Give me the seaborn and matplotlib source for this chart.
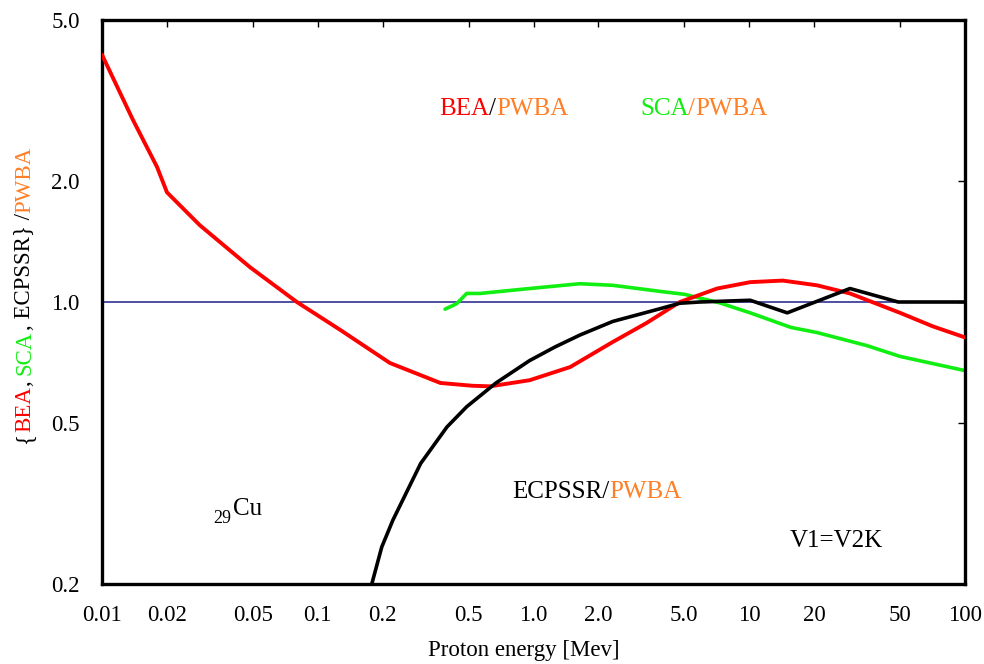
import matplotlib
matplotlib.use("Agg")
import matplotlib.pyplot as plt
import seaborn as sns
import pandas as pd
from matplotlib.ticker import FixedLocator, FixedFormatter, NullLocator

# ---------------- data ----------------
bea_x = [0.01, 0.0139, 0.018, 0.02, 0.0284, 0.0485, 0.08, 0.127, 0.216, 0.37, 0.52, 0.63,
         0.96, 1.48, 2.33, 3.34, 4.77, 7.1, 10.1, 14.3, 20.6, 29.3, 50, 71, 100]
bea_y = [4.1, 2.83, 2.16, 1.87, 1.55, 1.22, 1.0, 0.853, 0.706, 0.63, 0.62, 0.618,
         0.64, 0.69, 0.796, 0.887, 1.0, 1.08, 1.12, 1.13, 1.10, 1.05, 0.94, 0.87, 0.817]

sca_x = [0.389, 0.44, 0.49, 0.565, 0.96, 1.64, 2.33, 4.0, 5.0, 7.3, 10.1, 15.6, 20.6, 35, 50, 100]
sca_y = [0.96, 0.99, 1.05, 1.05, 1.08, 1.11, 1.10, 1.06, 1.045, 0.995, 0.94, 0.865, 0.84, 0.78, 0.733, 0.676]

ecp_x = [0.178, 0.198, 0.223, 0.3, 0.397, 0.49, 0.67, 0.96, 1.26, 1.64, 2.33, 3.66, 4.77, 5.9,
         10.1, 15, 29.3, 49, 100]
ecp_y = [0.2, 0.247, 0.288, 0.398, 0.49, 0.55, 0.63, 0.716, 0.774, 0.828, 0.895, 0.955, 0.993, 1.0,
         1.01, 0.94, 1.08, 1.0, 1.0]

ref_level = 1.0

x_ticks = [0.01, 0.02, 0.05, 0.1, 0.2, 0.5, 1.0, 2.0, 5.0, 10, 20, 50, 100]
x_tick_labels = ["0.01", "0.02", "0.05", "0.1", "0.2", "0.5", "1.0", "2.0", "5.0", "10", "20", "50", "100"]
y_ticks = [0.2, 0.5, 1.0, 2.0, 5.0]
y_tick_labels = ["0.2", "0.5", "1.0", "2.0", "5.0"]

RED = "#ff0000"
GREEN = "#11ee11"
ORANGE = "#ff7f27"
BLUE = "#1f1f8c"

# ---------------- figure ----------------
sns.set_theme(style="white")
FAM = ['Liberation Serif', 'DejaVu Serif']
plt.rcParams['font.family'] = FAM

W, H = 984, 664
fig = plt.figure(figsize=(W / 100, H / 100), dpi=100)
L, R, T, B = 102, 965, 20, 584
ax = fig.add_axes([L / W, (H - B) / H, (R - L) / W, (B - T) / H])

ax.axhline(ref_level, color=BLUE, lw=1.1, zorder=1)

df_sca = pd.DataFrame({"E": sca_x, "ratio": sca_y})
df_bea = pd.DataFrame({"E": bea_x, "ratio": bea_y})
df_ecp = pd.DataFrame({"E": ecp_x, "ratio": ecp_y})
sns.lineplot(data=df_sca, x="E", y="ratio", ax=ax, color=GREEN, lw=2.6, sort=False, estimator=None, zorder=2)
sns.lineplot(data=df_bea, x="E", y="ratio", ax=ax, color=RED, lw=2.8, sort=False, estimator=None, zorder=3)
sns.lineplot(data=df_ecp, x="E", y="ratio", ax=ax, color="black", lw=2.6, sort=False, estimator=None, zorder=4)

ax.set_xscale("log")
ax.set_yscale("log")
ax.set_xlim(0.01, 100)
ax.set_ylim(0.2, 5.0)
ax.xaxis.set_major_locator(FixedLocator(x_ticks))
ax.xaxis.set_major_formatter(FixedFormatter(x_tick_labels))
ax.yaxis.set_major_locator(FixedLocator(y_ticks))
ax.yaxis.set_major_formatter(FixedFormatter(y_tick_labels))
ax.xaxis.set_minor_locator(NullLocator())
ax.yaxis.set_minor_locator(NullLocator())
ax.tick_params(which="major", direction="in", length=5, width=1.0, color="black",
               top=True, right=True, labelsize=16.5, labelcolor="black")
ax.tick_params(axis="x", pad=15)
ax.tick_params(axis="y", pad=16)
ax.set_xlabel("")
ax.set_ylabel("")
for side in ["left", "bottom", "top", "right"]:
    ax.spines[side].set_visible(True)
    ax.spines[side].set_color("black")
    ax.spines[side].set_linewidth(2.4)
ax.grid(False)
ax.set_facecolor("white")

# ---------------- multi-coloured text helpers ----------------
renderer = fig.canvas.get_renderer()


def text_width(s, fs):
    t = fig.text(0, 0, s, fontsize=fs, family=FAM)
    w = t.get_window_extent(renderer).width
    t.remove()
    return w


def rich(x, y, pieces, fs, vertical=False):
    """x, y: image pixel coords (y from top) of the baseline start."""
    bar = text_width("|", fs)
    prefix = ""
    for s, c in pieces:
        off = text_width(prefix + "|", fs) - bar if prefix else 0.0
        if vertical:
            fig.text(x / W, (H - y + off) / H, s, color=c, fontsize=fs, family=FAM,
                     rotation=90, rotation_mode="anchor", ha="left", va="baseline")
        else:
            fig.text((x + off) / W, (H - y) / H, s, color=c, fontsize=fs, family=FAM,
                     ha="left", va="baseline")
        prefix += s


rich(439, 115, [("BEA", RED), ("/", "black"), ("PWBA", ORANGE)], 18)
rich(640, 115, [("SCA", GREEN), ("/", ORANGE), ("PWBA", ORANGE)], 18)
rich(512, 498, [("ECPSSR/", "black"), ("PWBA", ORANGE)], 18)
fig.text(790 / W, (H - 547) / H, "V1=V2K", fontsize=18, family=FAM, color="black",
         ha="left", va="baseline")
fig.text(213 / W, (H - 523) / H, "29", fontsize=13, family=FAM, color="black",
         ha="left", va="baseline")
fig.text(233 / W, (H - 515) / H, "Cu", fontsize=18, family=FAM, color="black",
         ha="left", va="baseline")

rich(30, 443, [("{", "black"), ("BEA", RED), (", ", "black"), ("SCA", GREEN),
               (", ECPSSR} /", "black"), ("PWBA", ORANGE)], 16.5, vertical=True)

fig.text(524 / W, (H - 656) / H, "Proton energy [Mev]", fontsize=16.5, family=FAM,
         color="black", ha="center", va="baseline")

fig.savefig("out.png", dpi=100, facecolor="white")
